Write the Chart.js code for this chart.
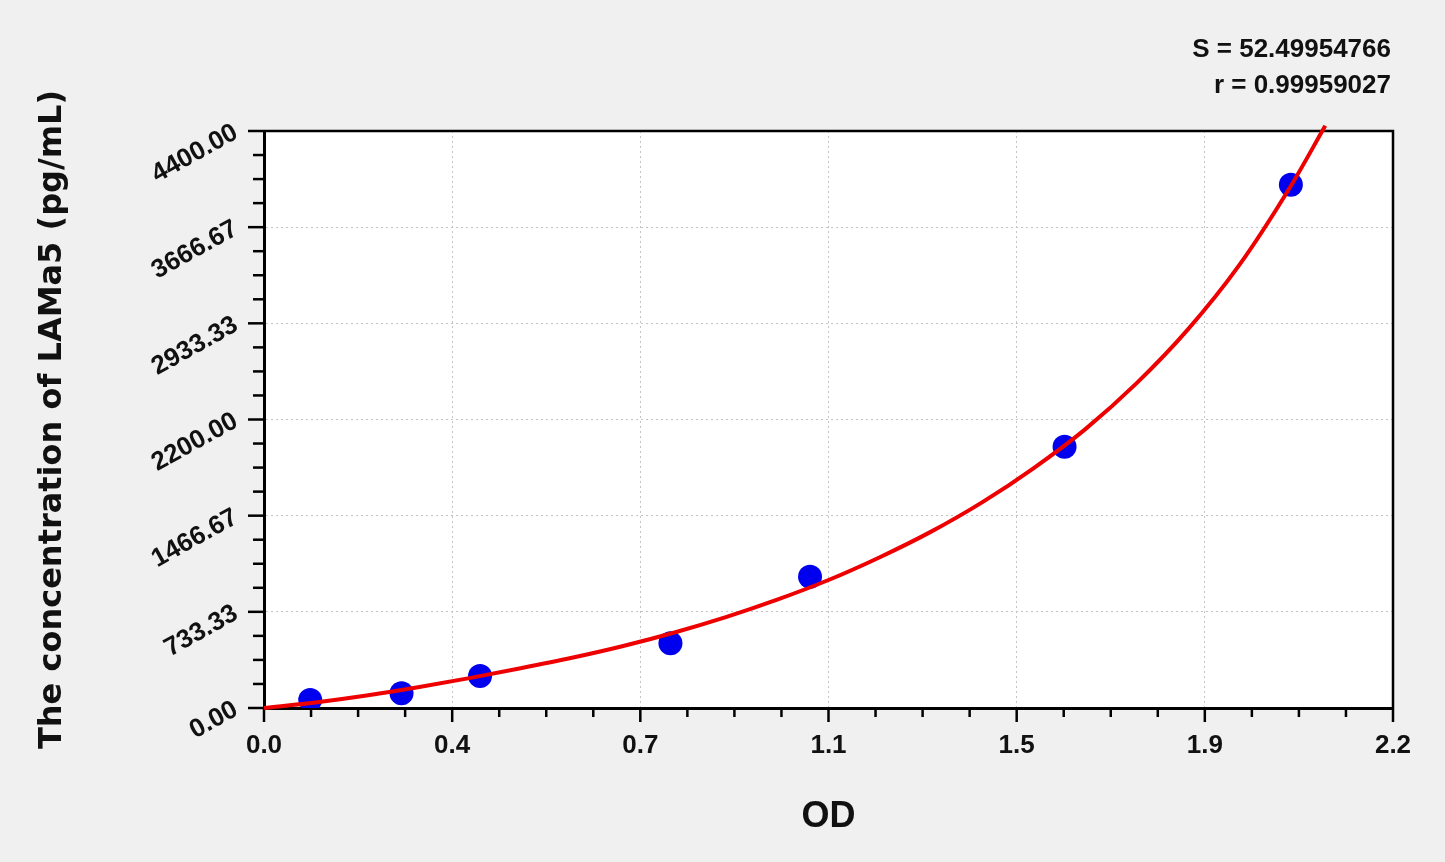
<!DOCTYPE html>
<html>
<head>
<meta charset="utf-8">
<title>LAMa5 standard curve</title>
<script src="https://cdn.jsdelivr.net/npm/chart.js@4.4.1/dist/chart.umd.min.js"></script>
<style>
  html, body { margin: 0; padding: 0; background: #f0f0f0; }
  canvas { display: block; }
</style>
</head>
<body>
<canvas id="curveChart" width="1445" height="862"></canvas>
<script>
// --- data ---
const pointOD = [0.090, 0.268, 0.421, 0.792, 1.064, 1.560, 2.001];
const pointConc = [61, 112, 244, 493, 1001, 1993, 3990];

const curveOD = [0, 0.1, 0.2, 0.3, 0.4, 0.5, 0.6, 0.7, 0.8, 0.9, 1.0, 1.1, 1.2, 1.3, 1.4, 1.5, 1.6, 1.7, 1.8, 1.9, 2.0, 2.068];
const curveConc = [0, 42, 95, 158, 228, 303, 383, 473, 576, 693, 826, 976, 1150, 1345, 1570, 1830, 2125, 2475, 2885, 3375, 3975, 4440];

const xTickValues = [0, 0.3667, 0.7333, 1.1, 1.4667, 1.8333, 2.2];
const xTickLabels = ['0.0', '0.4', '0.7', '1.1', '1.5', '1.9', '2.2'];
const yTickValues = [0, 733.33, 1466.67, 2200, 2933.33, 3666.67, 4400];
const yTickLabels = ['0.00', '733.33', '1466.67', '2200.00', '2933.33', '3666.67', '4400.00'];

const fitStats = ['S = 52.49954766', 'r = 0.99959027'];

// 背景・プロット枠・目盛り
const framePlugin = {
  id: 'frame',
  beforeDraw(chart) {
    const { ctx, chartArea: a } = chart;
    ctx.save();
    ctx.fillStyle = '#f0f0f0';
    ctx.fillRect(0, 0, chart.width, chart.height);
    ctx.fillStyle = '#ffffff';
    ctx.fillRect(a.left, a.top, a.right - a.left, a.bottom - a.top);
    ctx.restore();
  },
  beforeDatasetsDraw(chart) {
    const { ctx, chartArea: a, scales } = chart;
    ctx.save();
    ctx.strokeStyle = '#000';
    ctx.lineWidth = 2.5;
    ctx.beginPath();
    ctx.moveTo(a.left, a.top);
    ctx.lineTo(a.right, a.top);
    ctx.lineTo(a.right, a.bottom);
    ctx.stroke();

    // major + minor tick marks (4 steps between labels)
    const sub = 4;
    for (let i = 0; i < yTickValues.length; i++) {
      const y = scales.y.getPixelForValue(yTickValues[i]);
      ctx.beginPath();
      ctx.moveTo(a.left - 16, y);
      ctx.lineTo(a.left, y);
      ctx.stroke();
      if (i === yTickValues.length - 1) break;
      const step = (yTickValues[i + 1] - yTickValues[i]) / sub;
      for (let k = 1; k < sub; k++) {
        const ym = scales.y.getPixelForValue(yTickValues[i] + k * step);
        ctx.beginPath();
        ctx.moveTo(a.left - 11, ym);
        ctx.lineTo(a.left, ym);
        ctx.stroke();
      }
    }
    for (let i = 0; i < xTickValues.length; i++) {
      const x = scales.x.getPixelForValue(xTickValues[i]);
      ctx.beginPath();
      ctx.moveTo(x, a.bottom);
      ctx.lineTo(x, a.bottom + 14);
      ctx.stroke();
      if (i === xTickValues.length - 1) break;
      const step = (xTickValues[i + 1] - xTickValues[i]) / sub;
      for (let k = 1; k < sub; k++) {
        const xm = scales.x.getPixelForValue(xTickValues[i] + k * step);
        ctx.beginPath();
        ctx.moveTo(xm, a.bottom);
        ctx.lineTo(xm, a.bottom + 9);
        ctx.stroke();
      }
    }
    ctx.restore();
  },
  afterDraw(chart) {
    const { ctx, chartArea: a } = chart;
    ctx.save();
    ctx.fillStyle = '#111';
    ctx.font = 'bold 26px "Liberation Sans", Arial, sans-serif';
    ctx.textAlign = 'right';
    ctx.textBaseline = 'alphabetic';
    fitStats.forEach((t, i) => {
      ctx.fillText(t, a.right - 2, 57 + i * 36);
    });
    ctx.restore();
  }
};

const ctx = document.getElementById('curveChart');
new Chart(ctx, {
  type: 'scatter',
  data: {
    datasets: [
      {
        label: 'fit',
        data: curveOD.map((x, i) => ({ x, y: curveConc[i] })),
        showLine: true,
        borderColor: '#ee0000',
        borderWidth: 4,
        pointRadius: 0,
        cubicInterpolationMode: 'monotone',
        clip: false
      },
      {
        label: 'standards',
        data: pointOD.map((x, i) => ({ x, y: pointConc[i] })),
        backgroundColor: '#0000ee',
        borderWidth: 0,
        pointRadius: 12,
        pointHoverRadius: 12
      }
    ]
  },
  options: {
    responsive: false,
    animation: false,
    devicePixelRatio: 1,
    layout: { padding: { top: 131, right: 52, bottom: 0, left: 0 } },
    plugins: {
      legend: { display: false },
      tooltip: { enabled: false }
    },
    scales: {
      x: {
        type: 'linear',
        min: 0,
        max: 2.2,
        afterBuildTicks: s => { s.ticks = xTickValues.map(v => ({ value: v })); },
        afterFit: s => { s.height = 154; },
        ticks: {
          callback: (v, i) => xTickLabels[i],
          font: { family: '"Liberation Sans", Arial, sans-serif', size: 26, weight: 'bold' },
          color: '#111',
          padding: 22,
          maxRotation: 0,
          autoSkip: false
        },
        grid: { color: '#c4c4c4', lineWidth: 1, drawTicks: false },
        border: { display: true, color: '#000', width: 3, dash: [2, 3] },
        title: {
          display: true,
          text: 'OD',
          color: '#111',
          font: { family: '"Liberation Sans", Arial, sans-serif', size: 36, weight: 'bold' },
          padding: { top: 0, bottom: 23 }
        }
      },
      y: {
        type: 'linear',
        min: 0,
        max: 4400,
        afterBuildTicks: s => { s.ticks = yTickValues.map(v => ({ value: v })); },
        afterFit: s => { s.width = 264; },
        ticks: {
          callback: (v, i) => yTickLabels[i],
          font: { family: '"Liberation Sans", Arial, sans-serif', size: 26, weight: 'bold' },
          color: '#111',
          padding: 28,
          minRotation: 29,
          maxRotation: 29,
          autoSkip: false
        },
        grid: { color: '#c4c4c4', lineWidth: 1, drawTicks: false },
        border: { display: true, color: '#000', width: 3, dash: [2, 3] },
        title: {
          display: true,
          text: 'The concentration of LAMa5 (pg/mL)',
          color: '#111',
          font: { family: '"DejaVu Sans", sans-serif', size: 32, weight: 'bold' },
          padding: { top: 33, bottom: 0 }
        }
      }
    }
  },
  plugins: [framePlugin]
});
</script>
</body>
</html>
